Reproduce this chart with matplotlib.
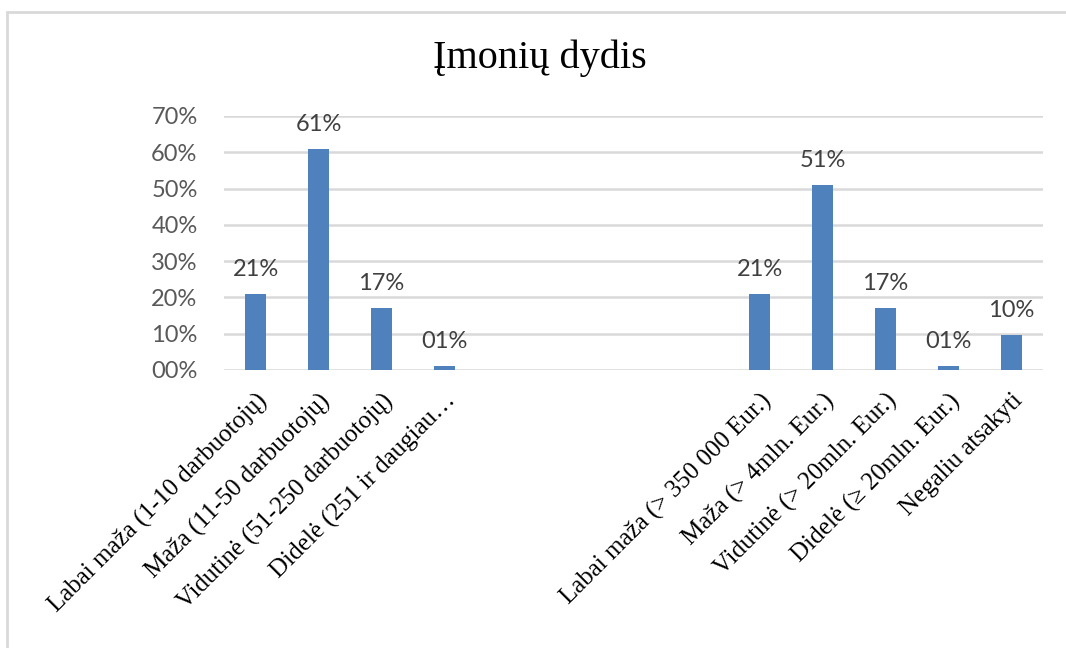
import numpy as np
import matplotlib
matplotlib.use("Agg")
import matplotlib.pyplot as plt
from matplotlib.patches import Rectangle

title = "Įmonių dydis"
categories = [
    "Labai maža (1-10 darbuotojų)",
    "Maža (11-50 darbuotojų)",
    "Vidutinė (51-250 darbuotojų)",
    "Didelė (251 ir daugiau…",
    "", "", "", "",
    "Labai maža (> 350 000 Eur.)",
    "Maža (> 4mln. Eur.)",
    "Vidutinė (> 20mln. Eur.)",
    "Didelė (≥ 20mln. Eur.)",
    "Negaliu atsakyti",
]
values = [0.21, 0.61, 0.17, 0.01, np.nan, np.nan, np.nan, np.nan,
          0.21, 0.51, 0.17, 0.01, 0.096]
yticks = [0.0, 0.1, 0.2, 0.3, 0.4, 0.5, 0.6, 0.7]

def pct(v):
    return f"{v * 100:02.0f}%"

fig = plt.figure(figsize=(10.66, 6.48), dpi=100)
fig.patch.set_facecolor("white")
# outer chart frame
fig.patches.append(Rectangle((7 / 1066, -0.05), 1.2, 1 - 12 / 648 + 0.05,
                             transform=fig.transFigure, fill=False,
                             edgecolor="#d9d9d9", linewidth=2))

ax = fig.add_axes([224 / 1066, 1 - 370 / 648, (1043 - 224) / 1066, (370 - 116) / 648])
x = np.arange(len(categories))
bars = ax.bar(x, values, width=0.32, color="#4f81bd", zorder=3)

ax.set_xlim(-0.5, len(categories) - 0.5)
ax.set_ylim(0, 0.7)
ax.set_yticks(yticks)
ax.set_yticklabels([pct(v) for v in yticks], fontsize=17, color="#595959",
                   family=["Lato", "DejaVu Sans"])
ax.yaxis.grid(True, color="#d9d9d9", linewidth=1.8, zorder=0)
ax.set_axisbelow(True)
for s in ax.spines.values():
    s.set_visible(False)
ax.tick_params(axis="both", length=0)
ax.tick_params(axis="y", pad=19)

ax.set_xticks(x)
ax.set_xticklabels(categories, rotation=45, ha="right", rotation_mode="anchor",
                   fontsize=18, family=["Liberation Serif", "DejaVu Serif"], color="black")
ax.tick_params(axis="x", pad=14)

for xi, v in zip(x, values):
    if np.isnan(v):
        continue
    ax.annotate(pct(v), (xi, v), xytext=(0, 13), textcoords="offset points",
                ha="center", va="baseline", fontsize=17, color="#404040",
                family=["Lato", "DejaVu Sans"])

fig.text(540 / 1066, 1 - 58 / 648, title, ha="center", va="center",
         fontsize=29, family=["Liberation Serif", "DejaVu Serif"], color="black")

fig.savefig("out.png", dpi=100)
